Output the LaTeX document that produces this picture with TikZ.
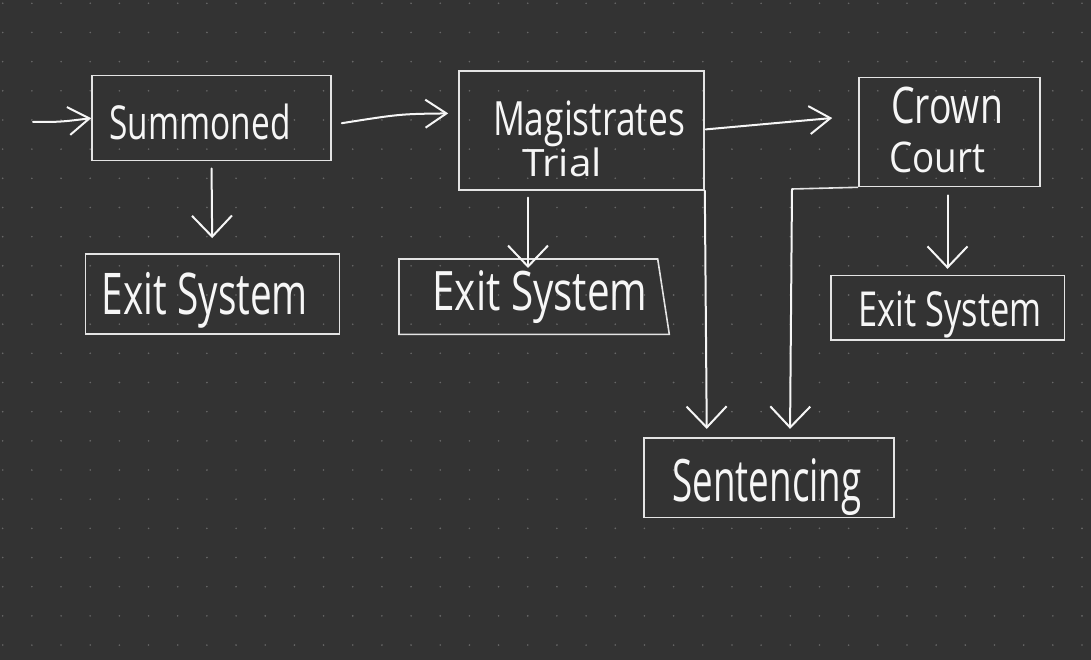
\documentclass[tikz,border=0pt]{standalone}
\usepackage{fontspec}
\setmainfont{Open Sans}
\usepackage{graphicx}
\usetikzlibrary{arrows.meta}
\definecolor{bgc}{HTML}{333333}
\definecolor{dotc}{HTML}{686868}
\definecolor{boxc}{HTML}{E4E4E4}
\definecolor{inkc}{HTML}{F6F6F6}
\newcommand{\hw}[3]{\resizebox*{#1pt}{#2pt}{#3}}
\begin{document}
\begin{tikzpicture}[x=1pt,y=-1pt,
  box/.style={draw=boxc, line width=1.6pt, rectangle, inner sep=0pt},
  txt/.style={text=inkc, inner sep=0pt, anchor=center},
  ink/.style={draw=inkc, line width=2pt, line cap=round, line join=round},
  arrH/.style={ink, -{Straight Barb[length=21pt,width=28pt]}},
  arrV/.style={ink, -{Straight Barb[length=21pt,width=40pt]}},
]
% background and dot grid
\fill[bgc] (0,0) rectangle (1091,660);
\useasboundingbox (0,0) rectangle (1091,660);
\foreach \i in {0,...,37}{
  \foreach \j in {0,...,22}{
    \fill[dotc] (2.7+29.17*\i, 3.3+29.17*\j) circle (0.9pt);
  }
}
% boxes
\node[box, minimum width=239pt, minimum height=85pt] (summ) at (211.5,118.2) {};
\node[box, minimum width=245pt, minimum height=119pt] (mag) at (581.5,130.4) {};
\node[box, minimum width=181pt, minimum height=109pt] (crown) at (949.5,132) {};
\node[box, minimum width=254pt, minimum height=80pt] (exit1) at (212.3,293.9) {};
\node[box, minimum width=233.6pt, minimum height=64.3pt] (exit3) at (947.5,307.8) {};
\node[box, minimum width=250pt, minimum height=79.6pt] (sent) at (769,477.5) {};
% trapezoid exit box
\coordinate (e2a) at (399,259);
\coordinate (e2b) at (657.7,259);
\coordinate (e2c) at (669.3,334.3);
\coordinate (e2d) at (399,334.3);
\coordinate (e2n) at (528,259);
\draw[draw=boxc, line width=1.6pt, line join=miter] (e2a) -- (e2b) -- (e2c) -- (e2d) -- cycle;
% texts
\node[txt] (summT) at (200,122) {\hw{181}{36}{Summoned}};
\node[txt] (magT) at (589,124) {\hw{192}{46}{Magistrates}};
\node[txt] (trialT) at (562,162) {\hw{80}{29}{Trial}};
\node[txt] (crownT) at (947,105) {\hw{112}{37}{Crown}};
\node[txt] (courtT) at (937,157) {\hw{96}{31}{Court}};
\node[txt] (exit1T) at (205,300) {\hw{206}{56}{Exit System}};
\node[txt] (exit2T) at (540,297) {\hw{215}{53}{Exit System}};
\node[txt] (exit3T) at (950,315) {\hw{183}{47}{Exit System}};
\node[txt] (sentT) at (767,487) {\hw{189}{57}{Sentencing}};
% connectors
\coordinate (inS) at (33,122);
\draw[arrH] (inS) .. controls (60,122) .. (summ.west);
\draw[arrH] ([shift={(10,5)}]summ.east) .. controls (400,114) .. ([shift={(-10,-17)}]mag.west);
\draw[arrH] ([shift={(1,-1)}]mag.east) -- ([shift={(-26,-14)}]crown.west);
\draw[arrV, shorten <=7pt, shorten >=15pt] (summ.south) -- (exit1.north);
\draw[arrV, shorten <=7pt] (mag.south -| e2n) -- ([yshift=-9pt]e2n);
\draw[arrV, shorten <=8pt, shorten >=6pt] (crown.south -| exit3.north) -- (exit3.north);
\draw[arrV, shorten >=8pt] (mag.south east) -- ([xshift=2pt]mag.south east |- sent.north);
\coordinate (cbend) at (792,189);
\draw[draw=boxc, line width=1.6pt] (crown.south west) -- (cbend);
\draw[arrV, shorten >=8pt] (cbend) -- ([xshift=-2pt]cbend |- sent.north);
\end{tikzpicture}
\end{document}
